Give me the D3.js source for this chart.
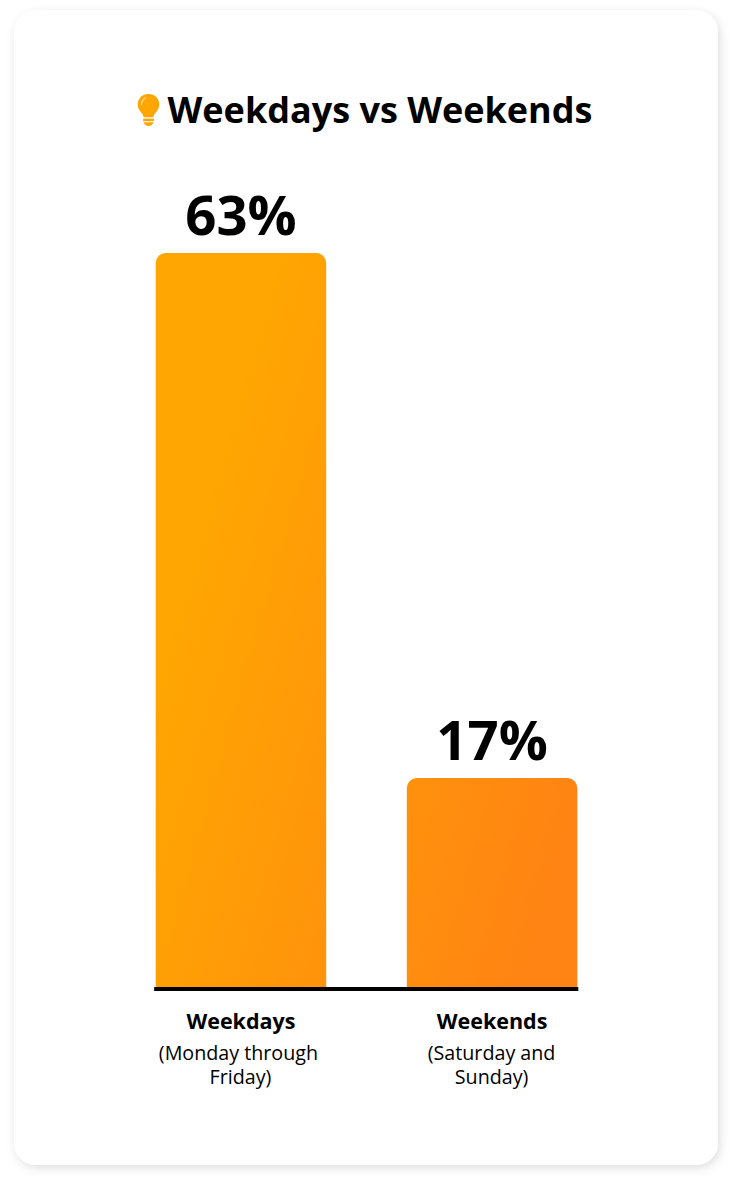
<!DOCTYPE html>
<html>
<head>
<meta charset="utf-8">
<script src="https://cdn.jsdelivr.net/npm/d3@7/dist/d3.min.js"></script>
<style>
html,body{margin:0;padding:0;background:#fff;}
svg{display:block;}
text{font-family:"Open Sans",sans-serif;fill:#000;}
</style>
</head>
<body>
<div id="chart"></div>
<script>
const chartTitle = "Weekdays vs Weekends";
const categories = ["Weekdays", "Weekends"];
const subLabels = [["(Monday through", "Friday)"], ["(Saturday and", "Sunday)"]];
const values = [63, 17];
const valueLabels = ["63%", "17%"];

const W = 732, H = 1184;
const svg = d3.select("#chart").append("svg").attr("width", W).attr("height", H);
const defs = svg.append("defs");

const shadow = defs.append("filter").attr("id", "cardShadow")
  .attr("x", "-5%").attr("y", "-5%").attr("width", "110%").attr("height", "110%");
shadow.append("feDropShadow").attr("dx", 2).attr("dy", 3).attr("stdDeviation", 5)
  .attr("flood-color", "#000").attr("flood-opacity", 0.13);

const grad = defs.append("linearGradient").attr("id", "barGrad")
  .attr("gradientUnits", "userSpaceOnUse")
  .attr("x1", 156).attr("y1", 680).attr("x2", 577).attr("y2", 800);
grad.append("stop").attr("offset", "0%").attr("stop-color", "#ffa602");
grad.append("stop").attr("offset", "100%").attr("stop-color", "#ff8413");

svg.append("rect").attr("x", 14).attr("y", 10).attr("width", 704).attr("height", 1155)
  .attr("rx", 22).attr("fill", "#fff").attr("filter", "url(#cardShadow)");

// title
const bulb = svg.append("g").attr("transform", "translate(148.5,110)").attr("fill", "#ffa602");
bulb.append("path").attr("d", "M0,-16 C6.4,-16 10.8,-11.2 10.8,-5.5 C10.8,-1.5 8.6,0.8 6.9,3 C5.7,4.6 5.2,5.6 5,7.2 L-5,7.2 C-5.2,5.6 -5.7,4.6 -6.9,3 C-8.6,0.8 -10.8,-1.5 -10.8,-5.5 C-10.8,-11.2 -6.4,-16 0,-16 Z");
bulb.append("path").attr("d", "M-5.4,8.6 L5.4,8.6 L5.4,11.2 L-5.4,11.2 Z");
bulb.append("path").attr("d", "M-5,12.2 L5,12.2 C4.4,14.6 2.2,16 0,16 C-2.2,16 -4.4,14.6 -5,12.2 Z");
bulb.append("path").attr("d", "M-7,-5.5 C-7,-8.5 -5.4,-10.8 -3.2,-12").attr("fill", "none")
  .attr("stroke", "#ffe2a8").attr("stroke-width", 1.3).attr("stroke-linecap", "round");

svg.append("text").attr("x", 380).attr("y", 123).attr("text-anchor", "middle")
  .attr("font-size", 36).attr("font-weight", 700).text(chartTitle);

// scales
const x = d3.scaleBand().domain(categories).range([115.5, 617.5]).paddingInner(0.321).paddingOuter(0.16);
const y = d3.scaleLinear().domain([-1.3, 63]).range([987, 253]);
const r = 10;
const barPath = d => {
  const x0 = x(d.c), x1 = x0 + x.bandwidth(), t = y(d.v), b = y.range()[0];
  return `M${x0},${b}V${t + r}A${r},${r} 0 0 1 ${x0 + r},${t}H${x1 - r}A${r},${r} 0 0 1 ${x1},${t + r}V${b}Z`;
};
const rows = categories.map((c, i) => ({c, v: values[i], l: valueLabels[i], s: subLabels[i]}));

svg.selectAll("path.bar").data(rows).join("path").attr("class", "bar")
  .attr("d", barPath).attr("fill", "url(#barGrad)");

svg.selectAll("text.val").data(rows).join("text").attr("class", "val")
  .attr("x", d => x(d.c) + x.bandwidth() / 2).attr("y", d => y(d.v) - 18)
  .attr("text-anchor", "middle").attr("font-size", 54.5).attr("font-weight", 700).text(d => d.l);

// baseline
const bandEnds = [x(categories[0]) - 1.5, x(categories[1]) + x.bandwidth() + 1];
svg.append("line").attr("x1", bandEnds[0]).attr("x2", bandEnds[1]).attr("y1", 989).attr("y2", 989)
  .attr("stroke", "#000").attr("stroke-width", 4);

// category labels
const g = svg.selectAll("g.lab").data(rows).join("g").attr("class", "lab")
  .attr("transform", d => `translate(${x(d.c) + x.bandwidth() / 2},0)`);
g.append("text").attr("y", 1029).attr("text-anchor", "middle")
  .attr("font-size", 21.5).attr("font-weight", 700).text(d => d.c);
g.append("text").attr("class", "sub").attr("text-anchor", "middle")
  .attr("font-size", 19.7).attr("font-weight", 400)
  .each(function(d, k) {
    d3.select(this).selectAll("tspan").data(d.s).join("tspan")
      .attr("x", (s, i) => (i === 0 && k === 0) ? -2.5 : -0.5)
      .attr("y", (s, i) => 1060 + i * 24)
      .text(s => s);
  });
</script>
</body>
</html>
